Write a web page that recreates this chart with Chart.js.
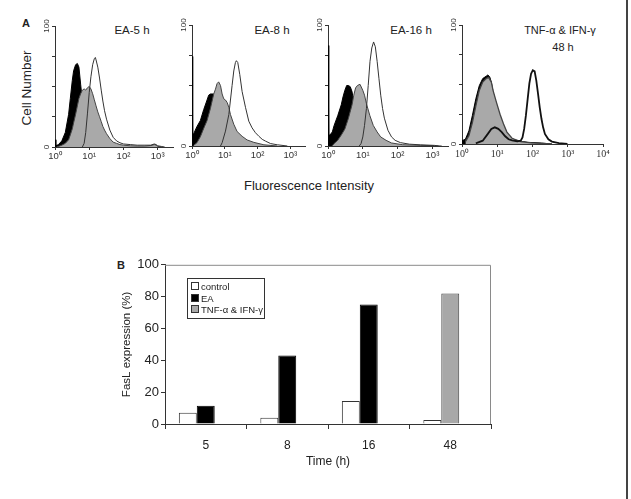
<!DOCTYPE html>
<html>
<head>
<meta charset="utf-8">
<script src="https://cdn.jsdelivr.net/npm/chart.js@4.4.0/dist/chart.umd.min.js"></script>
<style>
  html, body { margin: 0; padding: 0; background: #fff; }
  #fig { position: relative; width: 631px; height: 499px; overflow: hidden;
         font-family: "Liberation Sans", Arial, sans-serif; color: #222; }
  #fig canvas { position: absolute; }
  .lbl { position: absolute; white-space: nowrap; line-height: 1; transform: translate(-50%, -50%); }
  .panel { position: absolute; font-weight: bold; font-size: 11px; line-height: 1; }
  #legend { position: absolute; left: 187px; top: 278px; width: 78px; height: 41px; box-sizing: border-box;
            border: 1px solid #333; padding: 2px 0 0 3px; font-size: 9.5px; }
  #legend div { height: 11.5px; line-height: 11.5px; }
  #legend span.sw { display: inline-block; width: 6px; height: 6px; border: 1px solid #333;
                    margin-right: 2px; vertical-align: 0px; }
  #rightEdge { position: absolute; left: 626px; top: 0; width: 2px; height: 499px; background: #444; }
</style>
</head>
<body>
<div id="fig">
  <div class="panel" style="left:22px; top:18px;">A</div>
  <div class="lbl" style="left:27px; top:88px; font-size:13.5px; transform:translate(-50%,-50%) rotate(-90deg);">Cell Number</div>
  <div class="lbl" style="left:132px; top:31px; font-size:11.5px;">EA-5 h</div>
  <div class="lbl" style="left:272px; top:31px; font-size:11.5px;">EA-8 h</div>
  <div class="lbl" style="left:411px; top:31px; font-size:11.5px;">EA-16 h</div>
  <div class="lbl" style="left:560px; top:30px; font-size:11px;">TNF-α &amp; IFN-γ</div>
  <div class="lbl" style="left:563px; top:47px; font-size:11px;">48 h</div>
  <div class="lbl" style="left:309px; top:185px; font-size:13px;">Fluorescence Intensity</div>
  <div class="panel" style="left:117px; top:260px;">B</div>

  <canvas id="h5" width="150" height="147" style="left:33px; top:18px;"></canvas>
  <canvas id="h8" width="145" height="147" style="left:170px; top:17px;"></canvas>
  <canvas id="h16" width="152" height="147" style="left:306px; top:17px;"></canvas>
  <canvas id="h48" width="173" height="145" style="left:440px; top:17px;"></canvas>
  <canvas id="bars" width="385" height="218" style="left:110px; top:255px;"></canvas>
  <div id="legend"></div>
  <div id="rightEdge"></div>
</div>
<script>
// ---- panel A: histograms, [fluorescence, cell number] ----
const histXTicks = [1, 10, 100, 1000];
const histXTicks48 = [1, 10, 100, 1000, 10000];
const histYTicks = [0, 25, 50, 75, 100];
const SUP = ['\u2070', '\u00b9', '\u00b2', '\u00b3', '\u2074'];

const h5Black = [[1,6],[1.06,1],[1.26,2],[1.58,5],[2.0,12],[2.5,27],[2.8,40],[3.2,55],[3.5,63],[4.0,68],[4.5,69],[5.0,66],[5.6,52],[6.3,38],[7.1,28],[7.9,20],[8.9,15],[10,11],[12.6,6],[15.8,3],[20,1.5],[25,0.5],[40,0]];
const h5Gray = [[1.12,0],[1.26,0.5],[1.58,1.5],[2.0,3],[2.5,6],[2.8,10],[3.2,15],[3.5,20],[4.0,27],[4.5,34],[5.0,40],[5.6,44],[6.3,47],[7.1,48],[7.9,47],[8.9,49],[10,50],[11.2,48],[12.6,44],[14.1,39],[15.8,34],[17.8,29],[20,25],[22.4,21],[25,17],[28,14],[32,11],[40,7],[50,4],[63,3],[79,2],[100,1.5],[158,1],[251,0.8],[400,0.7],[630,1.2],[794,2],[900,1.5],[1000,0.5],[1260,0]];
const h5Open = [[6.3,0],[7.1,3],[7.9,12],[8.9,28],[10,45],[11.2,58],[12.6,68],[14.1,73],[15.1,74],[15.8,72],[17.8,66],[20,57],[22.4,47],[25,38],[28,30],[32,23],[40,14],[50,8],[63,5],[79,3.5],[100,2.5],[158,2],[251,1.5],[400,1.5],[630,1.5],[794,2.5],[900,2],[1000,1],[1260,0.5],[1600,0]];

const h8Black = [[1,74],[1.05,10],[1.12,10],[1.41,16],[1.8,21],[2.27,30],[2.88,38],[3.23,42],[3.64,43],[4.6,43],[5.2,42],[5.8,38],[6.5,30],[8.3,19],[11.8,8],[19,3.5],[38,0.5],[50,0]];
const h8Gray = [[1.12,0.5],[1.41,2.7],[1.8,7.7],[2.27,14.5],[2.88,21],[3.64,31],[4.6,43],[5.2,47],[5.8,51.5],[6.5,53],[7.4,50],[8.3,43],[9.3,39],[10.5,38],[11.8,36],[13.3,32],[14.9,26],[18.8,18],[23.7,12],[33.8,8],[48,5],[77,3],[156,1],[400,0]];
const h8Open = [[7.4,0],[8.3,2.7],[10.5,12.3],[13.3,26],[14.9,38],[16.7,50],[18.8,62],[21.1,69],[22.6,70.5],[24.9,69],[28.7,59],[33.8,45],[42.8,32],[54,20.5],[68,15],[86,11],[110,8],[139,5.5],[176,4],[250,2],[400,1],[810,0]];

const h16Black = [[1,83],[1.05,9],[1.13,9],[1.33,11.6],[1.5,17],[1.9,25],[2.4,34],[2.7,40.6],[3.05,46],[3.44,50],[3.87,50],[4.36,49],[4.9,45],[5.5,36],[7.0,23],[8.9,13],[12.7,4.7],[20,1],[41,0]];
const h16Gray = [[1.3,0],[1.5,2],[1.9,4.7],[2.4,9],[3.05,14],[3.87,23],[4.9,34],[5.5,42],[6.2,48],[7.0,50],[8.3,51],[10,46],[11.2,42],[12.7,35],[16,25],[20,17],[25.8,11.6],[32.6,7.5],[46.6,4.7],[66.9,2.5],[136,1.1],[445,0.5],[1150,0.3],[1850,0]];
const h16Open = [[7.9,0],[8.9,2],[10,7.5],[11.2,17],[12.7,31],[14.3,50],[16.1,70],[18.1,81],[20.4,86],[22.9,82],[25.8,70],[29,56],[32.7,42],[36.9,31],[41.6,23],[52.7,13],[66.8,7.5],[84.6,4.7],[120,2.8],[219,1.5],[446,1],[1150,0.5],[1500,0]];

const h48Black = [[1,2.8],[1.25,4],[1.57,11],[1.97,24],[2.47,38],[3.09,49],[3.87,55],[4.86,57],[5.4,58],[6.1,56.5],[6.8,52],[7.6,44],[9.5,32],[12,21],[15,12.7],[21,5.6],[37,2.8],[73,1.4],[180,0.8],[355,0]];
const h48Gray = [[1.25,2],[1.57,7],[1.97,18],[2.47,32],[3.09,45],[3.87,52],[4.86,55],[5.7,56],[6.8,52],[7.6,45],[9.5,35],[12,25],[15,17],[18.8,10],[26.3,4.8],[46.4,2],[91,1],[180,0.5],[355,0]];
const h48Open = [[2.47,0.6],[3.87,2.8],[5.4,8.5],[6.8,12.7],[8.5,14],[10.7,12.7],[13.4,10],[16.8,6.5],[21,4],[26.4,3],[37,2.3],[46.4,2.8],[52,5.6],[58,12.7],[65,24],[73,38],[81.5,51],[91,59],[102,62],[115,61],[128,53.5],[144,42],[160,31],[180,21],[200,14],[225,8.5],[282,4],[355,2],[560,0.8],[980,0]];

// ---- panel B: FasL expression (%) ----
const timeLabels = ['5', '8', '16', '48'];
const controlPct = [7, 4, 14.5, 2.5];
const eaPct = [11.5, 43, 75, null];
const tnfPct = [null, null, null, 82];

const pts = arr => arr.map(p => ({ x: p[0], y: p[1] }));

// "0" and "100" on the histogram y axes are written sideways
const sideYLabels = {
  id: 'sideYLabels',
  afterDraw(chart) {
    const { ctx, chartArea, scales } = chart;
    ctx.save();
    ctx.font = '8px "Liberation Sans", Arial, sans-serif';
    ctx.fillStyle = '#333';
    ctx.textAlign = 'center';
    ctx.textBaseline = 'middle';
    [0, 100].forEach(v => {
      ctx.save();
      ctx.translate(chartArea.left - 8, scales.y.getPixelForValue(v));
      ctx.rotate(-Math.PI / 2);
      ctx.fillText(String(v), 0, 0);
      ctx.restore();
    });
    ctx.restore();
  }
};

function histChart(id, black, gray, open, xMax, xTicks, tickFont, heavy) {
  new Chart(document.getElementById(id), {
    type: 'line',
    data: {
      datasets: [
        { data: pts(open), borderColor: heavy ? '#111' : '#333', borderWidth: heavy ? 1.8 : 1, fill: false },
        { data: pts(gray), borderColor: '#444', borderWidth: heavy ? 1.3 : 1, backgroundColor: '#a9a9a9', fill: 'origin' },
        { data: pts(black), borderColor: '#000', borderWidth: 1, backgroundColor: '#000', fill: 'origin' }
      ]
    },
    options: {
      responsive: false,
      animation: false,
      layout: { padding: { top: 8, right: 10, left: 0, bottom: 0 } },
      plugins: { legend: { display: false }, tooltip: { enabled: false } },
      elements: { point: { radius: 0 }, line: { tension: 0 } },
      scales: {
        x: {
          type: 'logarithmic', min: 1, max: xMax,
          afterBuildTicks: s => { s.ticks = xTicks.map(v => ({ value: v })); },
          afterFit: s => { s.height = 18; },
          grid: { drawOnChartArea: false, tickLength: 3, color: '#333' },
          border: { color: '#333' },
          ticks: { padding: 1, maxRotation: 0, autoSkip: false, font: tickFont, color: '#333',
                   callback: v => '10' + SUP[Math.round(Math.log10(v))] }
        },
        y: {
          min: 0, max: 100,
          afterBuildTicks: s => { s.ticks = histYTicks.map(v => ({ value: v })); },
          afterFit: s => { s.width = 22; },
          grid: { drawOnChartArea: false, tickLength: 3, color: '#333' },
          border: { color: '#333' },
          ticks: { display: false }
        }
      }
    },
    plugins: [sideYLabels]
  });
}

const sansTick = { family: '"Liberation Sans", Arial, sans-serif', size: 9.5 };
const serifTick = { family: '"Liberation Serif", "Times New Roman", serif', size: 10 };
histChart('h5', h5Black, h5Gray, h5Open, 2800, histXTicks, sansTick, false);
histChart('h8', h8Black, h8Gray, h8Open, 2800, histXTicks, sansTick, false);
histChart('h16', h16Black, h16Gray, h16Open, 2800, histXTicks, sansTick, false);
histChart('h48', h48Black, h48Gray, h48Open, 10000, histXTicks48, serifTick, true);

// thin grey box round the plot area of panel B
const plotFrame = {
  id: 'plotFrame',
  beforeDatasetsDraw(chart) {
    const { ctx, chartArea: a } = chart;
    ctx.save();
    ctx.strokeStyle = '#8a8a8a';
    ctx.lineWidth = 1;
    ctx.beginPath();
    ctx.moveTo(a.left, a.top + 0.5);
    ctx.lineTo(a.right - 0.5, a.top + 0.5);
    ctx.lineTo(a.right - 0.5, a.bottom);
    ctx.stroke();
    ctx.restore();
  }
};

const barSets = [
  { label: 'control', data: controlPct, stack: 'a', backgroundColor: '#ffffff', borderColor: '#333' },
  { label: 'EA', data: eaPct, stack: 'b', backgroundColor: '#000000', borderColor: '#000' },
  { label: 'TNF-\u03b1 & IFN-\u03b3', data: tnfPct, stack: 'b', backgroundColor: '#a8a8a8', borderColor: '#444' },
  // empty third slot, the original leaves this gap in every group
  { label: '', data: timeLabels.map(() => null), stack: 'c' }
];

new Chart(document.getElementById('bars'), {
  type: 'bar',
  data: { labels: timeLabels, datasets: barSets },
  options: {
    responsive: false,
    animation: false,
    layout: { padding: { top: 6, right: 4, left: 6, bottom: 0 } },
    datasets: { bar: { categoryPercentage: 0.66, barPercentage: 1, borderWidth: 1 } },
    plugins: { legend: { display: false }, tooltip: { enabled: false } },
    scales: {
      x: {
        afterFit: s => { s.height = 49; },
        grid: { drawOnChartArea: false, tickLength: 5, color: '#333', offset: true },
        border: { color: '#333' },
        ticks: { padding: 9, color: '#222', font: { family: '"Liberation Sans", Arial, sans-serif', size: 12 } },
        title: { display: true, text: 'Time (h)', color: '#222', padding: { top: 4, bottom: 4 },
                 font: { family: '"Liberation Sans", Arial, sans-serif', size: 12 } }
      },
      y: {
        min: 0, max: 100,
        afterFit: s => { s.width = 49; },
        grid: { drawOnChartArea: false, tickLength: 4, color: '#333' },
        border: { color: '#333' },
        ticks: { stepSize: 20, padding: 2, color: '#222', font: { family: '"Liberation Sans", Arial, sans-serif', size: 13 } },
        title: { display: true, text: 'FasL expression (%)', color: '#222', padding: { top: 4, bottom: 4 },
                 font: { family: '"Liberation Sans", Arial, sans-serif', size: 11.5 } }
      }
    }
  },
  plugins: [plotFrame]
});

// legend box inside the plot, built from the bar datasets
const legendEl = document.getElementById('legend');
barSets.slice(0, 3).forEach(ds => {
  const row = document.createElement('div');
  const sw = document.createElement('span');
  sw.className = 'sw';
  sw.style.background = ds.backgroundColor;
  row.appendChild(sw);
  row.appendChild(document.createTextNode(ds.label));
  legendEl.appendChild(row);
});
</script>
</body>
</html>
